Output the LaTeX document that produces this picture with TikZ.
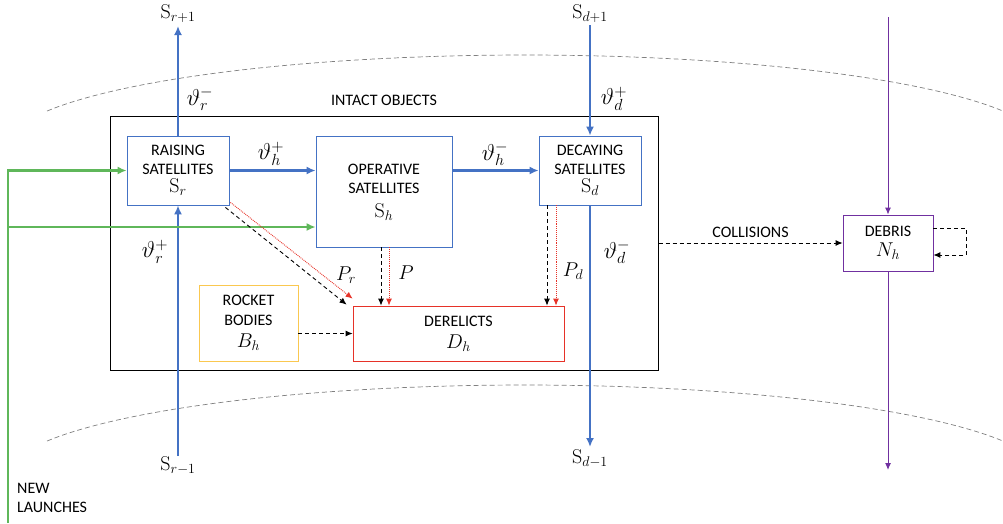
\documentclass[tikz,border=0pt]{standalone}
\usepackage{fix-cm}
\usepackage[no-math]{fontspec}
\setmainfont{Carlito}
\usetikzlibrary{arrows.meta,calc}
\definecolor{cblue}{RGB}{68,114,196}
\definecolor{cgreen}{RGB}{95,183,90}
\definecolor{corange}{RGB}{250,200,80}
\definecolor{cred}{RGB}{230,50,40}
\definecolor{cpurple}{RGB}{112,48,160}
\definecolor{cgray}{RGB}{128,128,128}
\begin{document}
\begin{tikzpicture}[x=1pt,y=-1pt,
  every node/.style={font=\fontsize{16}{20}\selectfont, inner sep=0pt},
  box/.style={draw, rectangle, line width=0.8pt, align=center},
  bluebox/.style={box, draw=cblue},
  mlab/.style={font=\fontsize{20}{22}\selectfont},
  vlab/.style={font=\fontsize{23}{25}\selectfont},
  tip/.style={-{Latex[length=9pt,width=8pt]}},
  bluearrow/.style={tip, draw=cblue, fill=cblue, line width=2.6pt},
  greenarrow/.style={tip, draw=cgreen, line width=2.4pt},
  purplearrow/.style={-{Latex[length=7pt,width=6pt]}, draw=cpurple, line width=1pt},
  dasharrow/.style={-{Latex[length=7pt,width=6pt]}, draw=black, line width=0.9pt, dash pattern=on 4pt off 3pt},
  dotarrow/.style={-{Latex[length=7pt,width=6pt]}, draw=cred, line width=0.9pt, densely dotted},
  arcline/.style={draw=cgray, line width=0.7pt, dash pattern=on 5pt off 3pt}
]
\useasboundingbox (0,0) rectangle (1003,523);

% orbit shell arcs
\draw[arcline] plot[domain=203.2:336.8,samples=90] ({525+520*cos(\x)},{147.4+92.4*sin(\x)});
\draw[arcline] plot[domain=203.2:336.8,samples=90] ({525+520*cos(\x)},{477.4+92.4*sin(\x)});

% intact objects container
\node[box, line width=1pt, minimum width=548pt, minimum height=254pt] (intact) at (384,243) {};
\node (intlab) at (384,100) {INTACT OBJECTS};

% boxes
\node[bluebox, minimum width=102pt, minimum height=69pt] (rs) at (178,170.5)
  {RAISING\\[-1.5pt]SATELLITES\\[-2pt]{\fontsize{20}{20}\selectfont$\mathrm{S}_r$}};
\node[bluebox, minimum width=136pt, minimum height=111pt] (op) at (384,191.5)
  {\rule{0pt}{12pt}OPERATIVE\\[-1pt]SATELLITES\\[4pt]{\fontsize{20}{20}\selectfont$\mathrm{S}_h$}};
\node[bluebox, minimum width=102pt, minimum height=69pt] (dec) at (590,170.5)
  {DECAYING\\[-1.5pt]SATELLITES\\[-2pt]{\fontsize{20}{20}\selectfont$\mathrm{S}_d$}};
\node[box, draw=corange, minimum width=99pt, minimum height=76pt] (rb) at (248.5,323)
  {ROCKET\\[-0.5pt]BODIES\\[2pt]{\fontsize{20}{20}\selectfont$B_h$}};
\node[box, draw=cred, minimum width=211pt, minimum height=55pt] (der) at (458.5,333.5)
  {DERELICTS\\[2pt]{\fontsize{20}{20}\selectfont$D_h$}};
\node[box, draw=cpurple, minimum width=90pt, minimum height=56pt] (deb) at (888,243)
  {DEBRIS\\[0pt]{\fontsize{20}{20}\selectfont$N_h$}};

% free ends
\coordinate (rtop) at (178,26);
\coordinate (rbot) at (178,456);
\coordinate (dtop) at (590,25);
\coordinate (dbot) at (590,447);
\coordinate (ptop) at (888,17);
\coordinate (pbot) at (888,470);
\coordinate (g0) at (8,523);
\coordinate (g2) at (8,227);

% state labels
\node[mlab] (srp) at (178,14) {$\mathrm{S}_{r+1}$};
\node[mlab] (srm) at (178,466) {$\mathrm{S}_{r-1}$};
\node[mlab] (sdp) at (590,14) {$\mathrm{S}_{d+1}$};
\node[mlab] (sdm) at (590,459) {$\mathrm{S}_{d-1}$};

% blue flows
\draw[bluearrow] (rs.north) -- (rtop);
\draw[bluearrow] (rbot) -- (rs.south);
\draw[bluearrow] (rs.east) -- (op.west |- rs.east);
\draw[bluearrow] (op.east |- dec.west) -- (dec.west);
\draw[bluearrow] (dtop) -- (dec.north);
\draw[bluearrow] (dec.south) -- (dbot);

% purple flows
\draw[purplearrow] (ptop) -- (deb.north);
\draw[purplearrow] (deb.south) -- (pbot);

% green launches
\draw[greenarrow] (g0) |- (rs.west);
\draw[greenarrow] (g2) -- (g2 -| op.west);

% flows to derelicts
\draw[dasharrow] ([xshift=-4pt,yshift=-2pt]rs.south east) -- ([xshift=-6pt,yshift=1pt]der.north west);
\draw[dotarrow] ([xshift=1pt,yshift=3pt]rs.south east) -- ([yshift=7pt]der.north west);
\coordinate (ob) at ([xshift=-3pt]op.south);
\coordinate (or) at ([xshift=5pt]op.south);
\draw[dasharrow] (ob) -- (ob |- der.north);
\draw[dotarrow] (or) -- (or |- der.north);
\coordinate (db) at ([xshift=-43pt]dec.south);
\coordinate (dr) at ([xshift=-34pt]dec.south);
\draw[dasharrow] (db) -- (db |- der.north);
\draw[dotarrow] (dr) -- (dr |- der.north);
\draw[dasharrow] (der.west -| rb.east) -- (der.west);

% collisions
\draw[dasharrow] (intact.east) -- (deb.west) node[midway, above=5pt] {COLLISIONS};
\draw[dasharrow] ([yshift=15pt]deb.east) -- ++(33,0) |- ([yshift=-12pt]deb.east);

% rate labels
\node[vlab] at (200,99) {$\vartheta_r^-$};
\node[vlab] at (155,252) {$\vartheta_r^+$};
\node[vlab] at (271,154) {$\vartheta_h^+$};
\node[vlab] at (495,154) {$\vartheta_h^-$};
\node[vlab] at (614,99) {$\vartheta_d^+$};
\node[vlab] at (617,252) {$\vartheta_d^-$};
\node[mlab] at (346,275) {$P_r$};
\node[mlab] at (406,273) {$P$};
\node[mlab] at (573,271) {$P_d$};

% new launches
\node[anchor=west, align=left] (nl) at (17,498) {NEW\\[-1pt]LAUNCHES};
\end{tikzpicture}
\end{document}
